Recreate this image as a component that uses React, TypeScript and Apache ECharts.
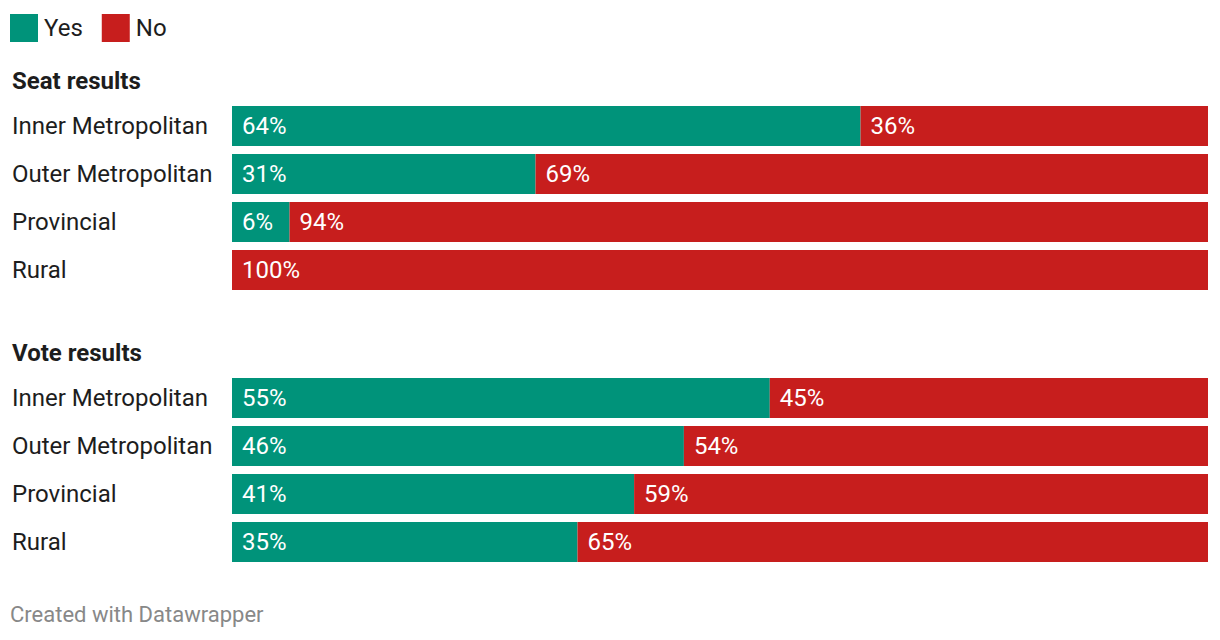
import React, { useEffect, useRef } from "react";
import * as echarts from "echarts";

const categories = ["Inner Metropolitan", "Outer Metropolitan", "Provincial", "Rural"];
const seatYes = [64.4, 31.1, 5.9, 0];
const seatNo = [35.6, 68.9, 94.1, 100];
const voteYes = [55.1, 46.3, 41.2, 35.4];
const voteNo = [44.9, 53.7, 58.8, 64.6];
const groupTitles = ["Seat results", "Vote results"];
const footer = "Created with Datawrapper";

const GREEN = "#00937a";
const RED = "#c71e1d";
const TEXT = "#1d1d1d";
const FONT = "Roboto, 'Noto Sans', sans-serif";

export default function App() {
  const ref = useRef<HTMLDivElement>(null);
  useEffect(() => {
    document.body.style.margin = "0";
    const chart = echarts.init(ref.current!, null, { renderer: "svg" });
    const label = {
      show: true,
      position: "insideLeft" as const,
      distance: 10,
      color: "#fff",
      fontSize: 24,
      fontFamily: FONT,
      formatter: (p: any) => (p.value > 0 ? Math.round(p.value) + "%" : ""),
    };
    const grids = [
      { left: 232, top: 102, width: 976, height: 192 },
      { left: 232, top: 374, width: 976, height: 192 },
    ];
    const yAxisBase = {
      type: "category" as const,
      data: categories,
      inverse: true,
      axisLine: { show: false },
      axisTick: { show: false },
      splitLine: { show: false },
      axisLabel: {
        align: "left" as const,
        margin: 220,
        fontSize: 24,
        color: TEXT,
        fontFamily: FONT,
      },
    };
    const xAxisBase = { type: "value" as const, min: 0, max: 100, show: false };
    const mk = (name: string, data: number[], idx: number, color: string) => ({
      type: "bar" as const,
      name,
      data,
      xAxisIndex: idx,
      yAxisIndex: idx,
      stack: "s" + idx,
      barWidth: 40,
      itemStyle: { color },
      label,
      emphasis: { disabled: true },
    });
    chart.setOption({
      animation: false,
      textStyle: { fontFamily: FONT },
      legend: {
        left: 10,
        top: 14,
        padding: 0,
        itemWidth: 28,
        itemHeight: 28,
        itemGap: 19,
        icon: "rect",
        data: ["Yes", "No"],
        textStyle: { fontSize: 24, color: TEXT, fontFamily: FONT, padding: [0, 0, 0, 1] },
        selectedMode: false,
      },
      grid: grids,
      xAxis: [
        { ...xAxisBase, gridIndex: 0 },
        { ...xAxisBase, gridIndex: 1 },
      ],
      yAxis: [
        { ...yAxisBase, gridIndex: 0 },
        { ...yAxisBase, gridIndex: 1 },
      ],
      graphic: [
        {
          type: "text",
          left: 12,
          top: 69,
          style: { text: groupTitles[0], fontSize: 24, fontWeight: "bold", fill: TEXT, fontFamily: FONT },
        },
        {
          type: "text",
          left: 12,
          top: 341,
          style: { text: groupTitles[1], fontSize: 24, fontWeight: "bold", fill: TEXT, fontFamily: FONT },
        },
        {
          type: "text",
          left: 10,
          top: 603,
          style: { text: footer, fontSize: 22, fill: "#888888", fontFamily: FONT },
        },
      ],
      series: [
        mk("Yes", seatYes, 0, GREEN),
        mk("No", seatNo, 0, RED),
        mk("Yes", voteYes, 1, GREEN),
        mk("No", voteNo, 1, RED),
      ],
    });
    return () => chart.dispose();
  }, []);
  return <div ref={ref} style={{ width: 1220, height: 640 }} />;
}
